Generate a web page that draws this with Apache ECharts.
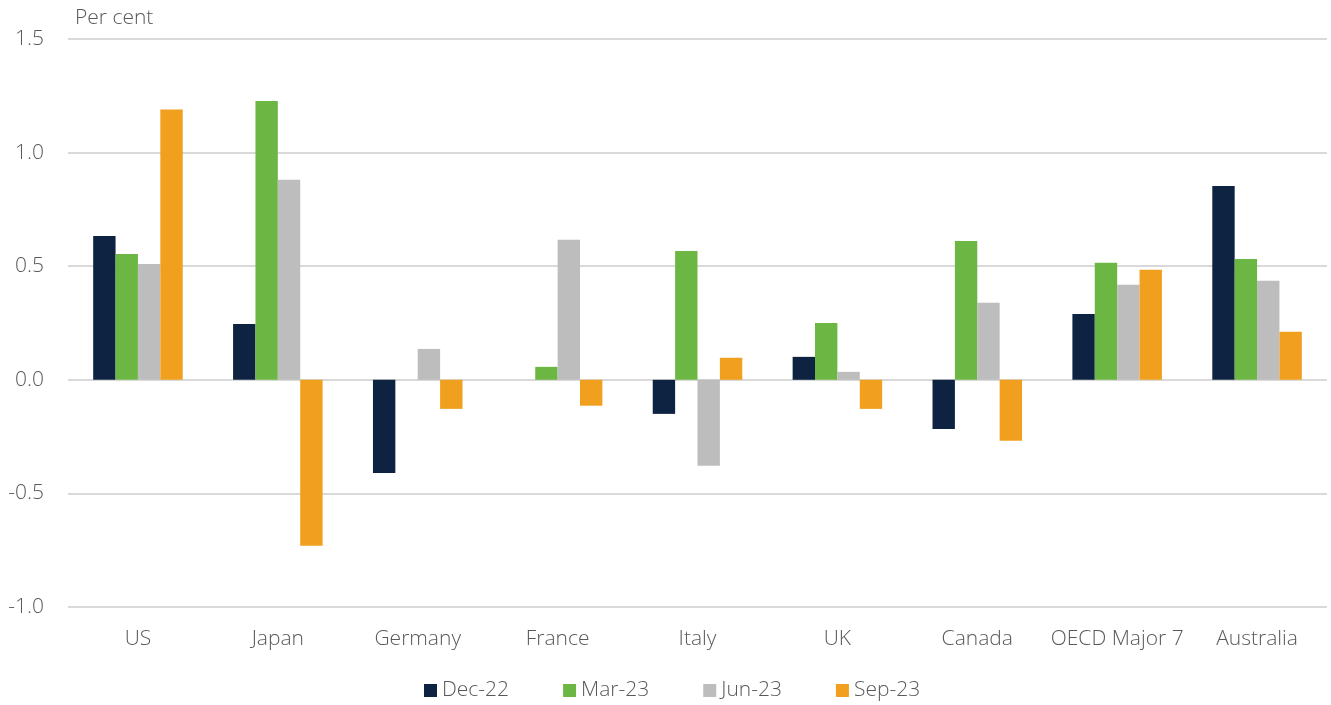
<!DOCTYPE html>
<html><head><meta charset="utf-8">
<script src="https://cdn.jsdelivr.net/npm/echarts@6/dist/echarts.min.js"></script>
<style>html,body{margin:0;padding:0;background:#fff}#c{width:1331px;height:705px}</style>
</head><body><div id="c"></div>
<script>
const categories = ['US','Japan','Germany','France','Italy','UK','Canada','OECD Major 7','Australia'];
const seriesNames = ['Dec-22','Mar-23','Jun-23','Sep-23'];
const dec22 = [0.633, 0.246, -0.41, 0, -0.15, 0.101, -0.216, 0.29, 0.853];
const mar23 = [0.554, 1.227, 0, 0.057, 0.567, 0.25, 0.611, 0.515, 0.532];
const jun23 = [0.51, 0.88, 0.136, 0.616, -0.378, 0.035, 0.339, 0.418, 0.436];
const sep23 = [1.19, -0.73, -0.128, -0.114, 0.097, -0.128, -0.268, 0.484, 0.211];
const colors = ['#0E2341', '#6CB744', '#BDBDBD', '#F0A01E'];
const font = "'Open Sans', Lato, sans-serif";
const values = [dec22, mar23, jun23, sep23];
const chart = echarts.init(document.getElementById('c'));
chart.setOption({
  animation: false,
  grid: {left: 68, right: 4, top: 39, bottom: 98, containLabel: false},
  legend: {
    bottom: -1, left: 419, itemWidth: 13, itemHeight: 13, itemGap: 54,
    icon: 'rect',
    textStyle: {color: '#595959', fontSize: 21, fontFamily: font, fontWeight: 300},
    data: seriesNames
  },
  xAxis: {
    type: 'category', data: categories,
    axisLine: {show: false}, axisTick: {show: false},
    axisLabel: {interval: 0, color: '#595959', fontSize: 21, fontFamily: font, fontWeight: 300, margin: 22}
  },
  yAxis: {
    type: 'value', min: -1, max: 1.5, interval: 0.5,
    name: 'Per cent', nameLocation: 'end', nameGap: 10,
    nameTextStyle: {color: '#595959', fontSize: 21, fontFamily: font, fontWeight: 300, align: 'left', padding: [0,0,0,7]},
    axisLine: {show: false}, axisTick: {show: false},
    axisLabel: {color: '#595959', fontSize: 21, fontFamily: font, fontWeight: 300, margin: 24,
      formatter: v => v.toFixed(1)},
    splitLine: {lineStyle: {color: '#D9D9D9', width: 2}}
  },
  series: seriesNames.map((n, i) => ({
    name: n, type: 'bar', data: values[i],
    itemStyle: {color: colors[i]},
    barGap: '0%', barCategoryGap: '36%'
  }))
});
</script></body></html>
